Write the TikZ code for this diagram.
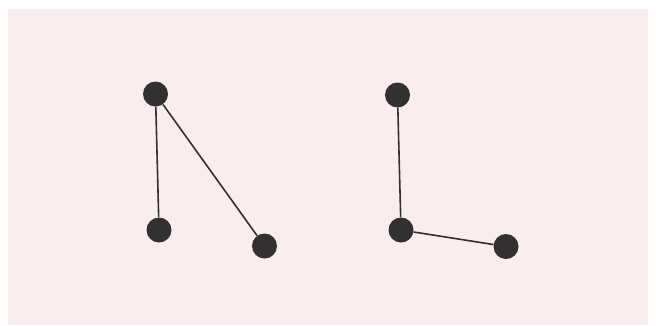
\documentclass[tikz,border=0pt]{standalone}
\definecolor{bgpink}{RGB}{250,237,237}
\definecolor{dot}{RGB}{50,48,48}
\begin{document}
\begin{tikzpicture}[x=1pt,y=-1pt,
  vertex/.style={circle,fill=dot,inner sep=0pt,minimum size=25pt},
  edge/.style={draw=dot,line width=1.6pt}]
\fill[white] (0,0) rectangle (656,325);
\fill[bgpink] (8,9) rectangle (648,325);
\useasboundingbox (0,0) rectangle (656,325);
\node[vertex] (a) at (155.5,94) {};
\node[vertex] (b) at (159,230) {};
\node[vertex] (c) at (264.5,246) {};
\node[vertex] (d) at (397.5,95) {};
\node[vertex] (e) at (401,230) {};
\node[vertex] (f) at (506,246.5) {};
\draw[edge] (a) -- (b);
\draw[edge] (a) -- (c);
\draw[edge] (d) -- (e);
\draw[edge] (e) -- (f);
\end{tikzpicture}
\end{document}
